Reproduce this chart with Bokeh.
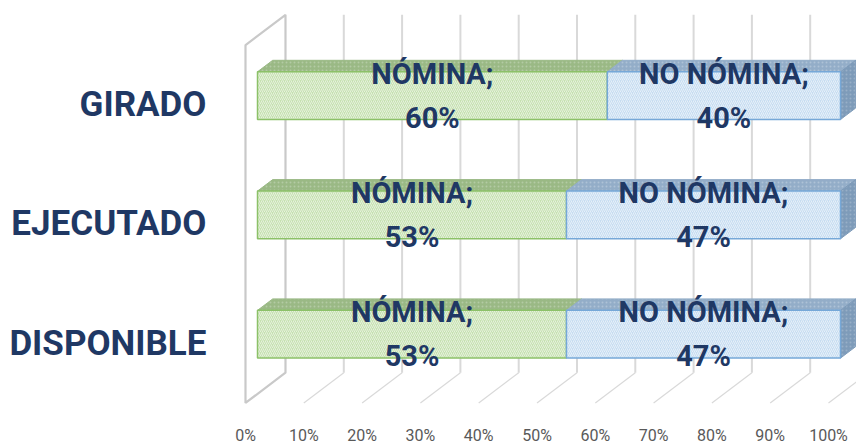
from bokeh.plotting import figure
from bokeh.models import FixedTicker, Range1d, ColumnDataSource
from bokeh.embed import file_html
from bokeh.resources import INLINE
from bokeh.core.properties import value

# ---------------- data ----------------
categories = ["DISPONIBLE", "EJECUTADO", "GIRADO"]
series_names = ["NÓMINA", "NO NÓMINA"]
nomina = [53, 53, 60]
no_nomina = [47, 47, 40]
tick_values = [0, 10, 20, 30, 40, 50, 60, 70, 80, 90, 100]
tick_labels = ["0%", "10%", "20%", "30%", "40%", "50%", "60%", "70%", "80%", "90%", "100%"]

# ---------------- layout / style ----------------
W, H = 856, 447
LEFT, BOTTOM = 222, 27
PX_X = 5.83      # px per percent
PX_Y = 122.5     # px per category
X0_PX = 245      # pixel of 0% on the front plane
Y0_PX = 352      # pixel of first category on the front plane

x_start = (LEFT - X0_PX) / PX_X
x_end = (W - X0_PX) / PX_X
y_end = Y0_PX / PX_Y
y_start = -(H - BOTTOM - Y0_PX) / PX_Y

DX = 40 / PX_X   # full depth, x
DY = 31 / PX_Y   # full depth, y
F0, F1 = 0.30, 0.68
BAR_H = 0.40
FLOOR, TOP = -0.5, 2.5

TEXT_COL = "#1F3864"
GRID_COL = "#D9D9D9"
WALL_COL = "#C9C9C9"
FACE = {
    "NÓMINA": dict(front="#C6E1B1", line="#8CC168", top="#9AB985", side="#86A873"),
    "NO NÓMINA": dict(front="#C7DDF1", line="#76A8D8", top="#93ADC8", side="#7E9BB9"),
}

p = figure(width=W, height=H, output_backend="svg", toolbar_location=None,
           x_range=Range1d(x_start, x_end), y_range=Range1d(y_start, y_end),
           min_border_left=LEFT, min_border_right=0, min_border_top=0,
           min_border_bottom=BOTTOM, background_fill_color="white",
           border_fill_color="white", outline_line_color=None)
p.grid.visible = False

# axes
p.xaxis.ticker = FixedTicker(ticks=tick_values)
p.xaxis.major_label_overrides = {v: l for v, l in zip(tick_values, tick_labels)}
p.xaxis.axis_line_color = None
p.xaxis.major_tick_line_color = None
p.xaxis.minor_tick_line_color = None
p.xaxis.major_label_standoff = 10
p.xaxis.major_label_text_font = "Roboto"
p.xaxis.major_label_text_font_size = "16px"
p.xaxis.major_label_text_color = "#595959"

p.yaxis.ticker = FixedTicker(ticks=list(range(len(categories))))
p.yaxis.major_label_overrides = {i: c for i, c in enumerate(categories)}
p.yaxis.axis_line_color = None
p.yaxis.major_tick_line_color = None
p.yaxis.minor_tick_line_color = None
p.yaxis.major_label_standoff = 10
p.yaxis.major_label_text_font = "Roboto"
p.yaxis.major_label_text_font_style = "bold"
p.yaxis.major_label_text_font_size = "35px"
p.yaxis.major_label_text_color = TEXT_COL

# back wall gridlines
gx = [t + DX for t in tick_values[1:]]
p.segment(x0=gx, y0=[FLOOR + DY] * len(gx), x1=gx, y1=[TOP + DY] * len(gx),
          line_color=GRID_COL, line_width=2)
# floor lines
fx = tick_values[1:]
p.segment(x0=fx, y0=[FLOOR] * len(fx), x1=[t + DX for t in fx], y1=[FLOOR + DY] * len(fx),
          line_color=GRID_COL, line_width=1.2)
# left wall
p.patch(x=[0, DX, DX, 0], y=[FLOOR, FLOOR + DY, TOP + DY, TOP],
        fill_color="white", line_color=WALL_COL, line_width=2.2)

# bars
tops_xs, tops_ys, tops_c = [], [], []
sides_xs, sides_ys, sides_c = [], [], []
fr = dict(left=[], right=[], bottom=[], top=[], fill=[], line=[], lx=[], ly=[], label=[])
for i, cat in enumerate(categories):
    vals = [nomina[i], no_nomina[i]]
    start = 0
    for name, v in zip(series_names, vals):
        end = start + v
        l, r = start + F0 * DX, end + F0 * DX
        b, t = i - BAR_H / 2 + F0 * DY, i + BAR_H / 2 + F0 * DY
        ddx, ddy = (F1 - F0) * DX, (F1 - F0) * DY
        tops_xs.append([l, r, r + ddx, l + ddx])
        tops_ys.append([t, t, t + ddy, t + ddy])
        tops_c.append(FACE[name]["top"])
        if name == series_names[-1]:
            sides_xs.append([r, r + ddx, r + ddx, r])
            sides_ys.append([b, b + ddy, t + ddy, t])
            sides_c.append(FACE[name]["side"])
        fr["left"].append(l); fr["right"].append(r)
        fr["bottom"].append(b); fr["top"].append(t)
        fr["fill"].append(FACE[name]["front"]); fr["line"].append(FACE[name]["line"])
        fr["lx"].append((l + r) / 2); fr["ly"].append((b + t) / 2)
        fr["label"].append(f"{name};\n{v}%")
        start = end

p.patches(xs=tops_xs, ys=tops_ys, fill_color=tops_c, line_color=tops_c, line_width=1,
          hatch_pattern=".", hatch_color="#FFFFFF", hatch_alpha=0.25, hatch_scale=4)
p.patches(xs=sides_xs, ys=sides_ys, fill_color=sides_c, line_color=sides_c, line_width=1,
          hatch_pattern=".", hatch_color="#FFFFFF", hatch_alpha=0.2, hatch_scale=4)
src = ColumnDataSource(fr)
p.quad(left="left", right="right", bottom="bottom", top="top", source=src,
       fill_color="fill", line_color="line", line_width=1.5,
       hatch_pattern="/", hatch_color="white", hatch_alpha=0.55,
       hatch_scale=4, hatch_weight=1)
p.text(x="lx", y="ly", text="label", source=src, text_align="center",
       text_baseline="middle", text_font=value("Roboto"), text_font_style="bold",
       text_font_size="29px", text_color=TEXT_COL, text_line_height=1.3)

open("out.html", "w").write(file_html(p, INLINE))
